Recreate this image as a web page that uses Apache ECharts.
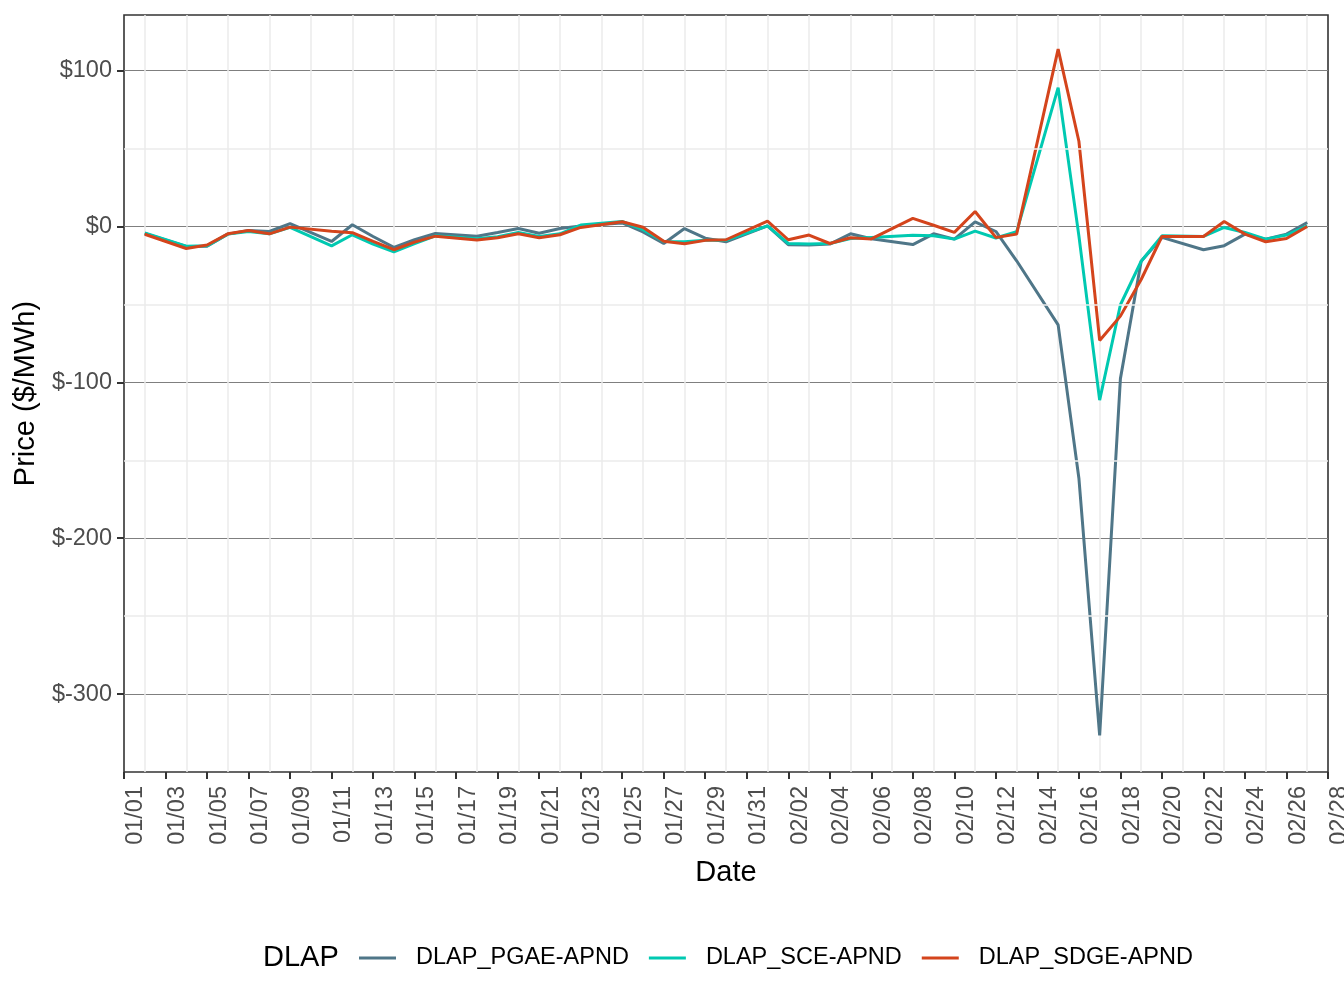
<!DOCTYPE html>
<html>
<head>
<meta charset="utf-8">
<title>DLAP prices</title>
<script src="https://cdn.jsdelivr.net/npm/echarts@6/dist/echarts.min.js"></script>
<style>
html, body { margin: 0; padding: 0; background: #fff; }
#chart { width: 1344px; height: 1008px; }
</style>
</head>
<body>
<div id="chart"></div>
<script>
// trading days (sundays are missing in the source)
var dates = [
	'2021-01-02','2021-01-04','2021-01-05','2021-01-06','2021-01-07','2021-01-08','2021-01-09',
	'2021-01-11','2021-01-12','2021-01-13','2021-01-14','2021-01-15','2021-01-16',
	'2021-01-18','2021-01-19','2021-01-20','2021-01-21','2021-01-22','2021-01-23',
	'2021-01-25','2021-01-26','2021-01-27','2021-01-28','2021-01-29','2021-01-30',
	'2021-02-01','2021-02-02','2021-02-03','2021-02-04','2021-02-05','2021-02-06',
	'2021-02-08','2021-02-09','2021-02-10','2021-02-11','2021-02-12','2021-02-13',
	'2021-02-15','2021-02-16','2021-02-17','2021-02-18','2021-02-19','2021-02-20',
	'2021-02-22','2021-02-23','2021-02-24','2021-02-25','2021-02-26','2021-02-27'
];
var pgae = [
	-4.5, -12.8, -12.6, -4.9, -2.6, -3.2, 1.9,
	-9.6, 1.1, -6.4, -13.4, -8.5, -4.5,
	-6.2, -3.8, -1.3, -4.3, -1.3, 0.4,
	2.3, -3.5, -10.9, -1.3, -7.5, -9.8,
	0.4, -11.7, -11.9, -11.3, -4.7, -7.9,
	-11.6, -4.7, -8.1, 3.0, -3.2, -22,
	-63.1, -161.5, -326.5, -97.6, -22.3, -7.0,
	-14.9, -12.3, -4.9, -8.1, -4.9, 2.6
];
var sce = [
	-4.2, -12.6, -12.4, -4.9, -3.2, -4.7, -0.6,
	-12.4, -5.3, -11.3, -16.2, -11.0, -6.0,
	-7.9, -6.6, -3.8, -6.4, -4.7, 0.9,
	3.2, -2.0, -9.6, -9.8, -8.9, -8.9,
	0.4, -10.9, -11.3, -10.9, -7.7, -7.0,
	-5.6, -6.0, -8.1, -3.0, -7.4, -3.4,
	89.1, -6.0, -111.4, -50.2, -22.3, -6.0,
	-6.4, -0.6, -3.8, -8.1, -5.5, 0.4
];
var sdge = [
	-5.0, -14.1, -11.9, -4.7, -2.6, -4.7, -0.4,
	-3.0, -4.0, -9.6, -14.9, -10.0, -6.2,
	-8.7, -7.2, -4.7, -7.2, -5.3, -0.6,
	3.0, -0.5, -9.4, -11.1, -8.9, -8.5,
	3.4, -8.5, -5.5, -10.9, -7.2, -8.0,
	5.2, 0.8, -3.8, 9.6, -7.0, -4.9,
	113.8, 54.7, -73.1, -57.5, -34.0, -6.4,
	-6.4, 3.2, -4.9, -9.8, -7.7, 0.0
];
var seriesNames = ['DLAP_PGAE-APND', 'DLAP_SCE-APND', 'DLAP_SDGE-APND'];
var seriesColors = ['#4f7688', '#00c9b1', '#d4441c'];
var yTicks = [-300, -200, -100, 0, 100];
var yMinor = [-250, -150, -50, 50];

var DAY = 86400000;
var start = Date.parse('2021-01-01');

var dayIndex = function(s){
	return Math.round((Date.parse(s) - start) / DAY);
};
var dayLabel = function(d){
	var t = new Date(start + d * DAY);
	var m = t.getUTCMonth() + 1, dd = t.getUTCDate();
	return (m < 10 ? '0' : '') + m + '/' + (dd < 10 ? '0' : '') + dd;
};
var toPoints = function(values){
	var pts = [];
	for (var i = 0; i < dates.length; i++) {
		pts.push([dayIndex(dates[i]), values[i]]);
	}
	return pts;
};
var minorLines = function(){
	var arr = [];
	for (var i = 0; i < yMinor.length; i++) arr.push({ yAxis: yMinor[i] });
	return arr;
};

var font = 'Liberation Sans';
var myChart = echarts.init(document.getElementById('chart'));
var option = {
	backgroundColor: '#fff',
	animation: false,
	textStyle: { fontFamily: font },
	title: {
		text: 'DLAP',
		left: 258,
		top: 938,
		textStyle: { fontFamily: font, fontSize: 29, fontWeight: 'normal', color: '#000' }
	},
	legend: {
		data: seriesNames,
		left: 354,
		top: 941,
		icon: 'rect',
		itemWidth: 37,
		itemHeight: 3,
		itemGap: 20,
		textStyle: { fontFamily: font, fontSize: 23.5, color: '#000', padding: [0, 0, 0, 15] }
	},
	grid: {
		left: 124,
		right: 16,
		top: 15,
		bottom: 236,
		outerBoundsMode: 'none',
		containLabel: false,
		show: true,
		borderColor: '#333',
		borderWidth: 1.6
	},
	xAxis: {
		type: 'value',
		min: 0,
		max: 58,
		interval: 2,
		name: 'Date',
		nameLocation: 'middle',
		nameGap: 86,
		nameTextStyle: { fontFamily: font, fontSize: 29, color: '#000' },
		axisLine: { show: false, onZero: false },
		axisTick: { show: true, length: 7, lineStyle: { color: '#333', width: 2 } },
		axisLabel: {
			rotate: 90,
			margin: 14,
			verticalAlign: 'top',
			fontSize: 23.5,
			color: '#4d4d4d',
			fontFamily: font,
			formatter: function(v){ return dayLabel(v); }
		},
		splitLine: { show: false },
		minorTick: { show: false, splitNumber: 2 },
		minorSplitLine: { show: true, lineStyle: { color: '#ebebeb', width: 1.5 } }
	},
	yAxis: {
		type: 'value',
		min: -350,
		max: 135.7,
		interval: 50,
		name: 'Price ($/MWh)',
		nameLocation: 'middle',
		nameGap: 78,
		nameTextStyle: { fontFamily: font, fontSize: 29, color: '#000' },
		axisLine: { show: false, onZero: false },
		axisTick: { show: true, length: 7, customValues: yTicks, lineStyle: { color: '#333', width: 2 } },
		axisLabel: {
			margin: 12,
			fontSize: 23.5,
			color: '#4d4d4d',
			fontFamily: font,
			customValues: yTicks,
			formatter: function(v){ return '$' + v; }
		},
		splitLine: { show: true, lineStyle: { color: '#7f7f7f', width: 1.2 } }
	},
	series: [
		{ name: 'minor', type: 'line', data: [], z: 1, silent: true,
		  markLine: { silent: true, symbol: 'none', label: { show: false }, animation: false,
			lineStyle: { color: '#ebebeb', width: 1.5, type: 'solid' }, data: minorLines() } },
		{ name: seriesNames[0], type: 'line', data: toPoints(pgae), showSymbol: false, z: 2,
		  lineStyle: { color: seriesColors[0], width: 3 }, itemStyle: { color: seriesColors[0] } },
		{ name: seriesNames[1], type: 'line', data: toPoints(sce), showSymbol: false, z: 3,
		  lineStyle: { color: seriesColors[1], width: 3 }, itemStyle: { color: seriesColors[1] } },
		{ name: seriesNames[2], type: 'line', data: toPoints(sdge), showSymbol: false, z: 4,
		  lineStyle: { color: seriesColors[2], width: 3 }, itemStyle: { color: seriesColors[2] } }
	]
};
myChart.setOption(option);
window.onresize = function(){
	myChart.resize();
};
</script>
</body>
</html>
